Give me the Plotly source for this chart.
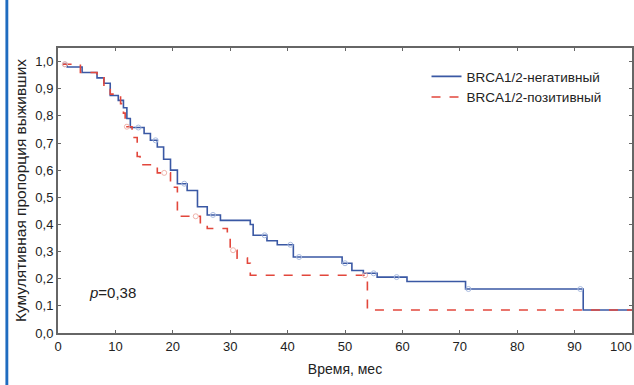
import plotly.graph_objects as go
import numpy as np

# Kaplan-Meier step data
neg_time = [0.8, 1.6, 4.2, 6.8, 8.0, 9.1, 10.5, 11.4, 12.0, 12.6, 15.0, 16.1, 17.3, 18.4, 19.6,
            20.8, 22.5, 24.3, 26.0, 28.3, 33.5, 34.0, 36.4, 38.2, 41.0, 49.5, 51.2, 53.2,
            55.6, 60.8, 71.0, 91.5, 100.0]
neg_surv = [0.99, 0.98, 0.96, 0.94, 0.92, 0.875, 0.857, 0.83, 0.79, 0.757, 0.735, 0.71, 0.685,
            0.64, 0.60, 0.55, 0.525, 0.465, 0.435, 0.415, 0.40, 0.36, 0.34, 0.325, 0.28, 0.257,
            0.23, 0.22, 0.206, 0.19, 0.162, 0.085, 0.085]

pos_time = [0.8, 3.9, 6.8, 8.0, 9.1, 10.9, 11.4, 11.7, 12.9, 13.8, 14.3, 16.6, 17.3, 19.6,
            20.8, 24.8, 26.0, 29.5, 30.0, 31.2, 33.0, 33.5, 53.9, 100.0]
pos_surv = [0.99, 0.96, 0.94, 0.905, 0.88, 0.845, 0.81, 0.76, 0.72, 0.65, 0.62, 0.61, 0.59,
            0.537, 0.43, 0.40, 0.385, 0.36, 0.305, 0.276, 0.257, 0.213, 0.085, 0.085]

# censored observation times
neg_cens = [1.2, 14.0, 17.0, 22.0, 27.0, 36.0, 40.5, 42.0, 50.0, 55.0, 59.0, 71.5, 91.0]
pos_cens = [1.2, 12.0, 18.5, 24.0, 30.5, 53.5]

x_ticks = [0, 10, 20, 30, 40, 50, 60, 70, 80, 90, 100]
y_ticks = [0.0, 0.1, 0.2, 0.3, 0.4, 0.5, 0.6, 0.7, 0.8, 0.9, 1.0]
y_labels = [f"{v:.1f}".replace(".", ",") for v in y_ticks]


def step_at(times, surv, t):
    idx = np.searchsorted(times, t, side="right") - 1
    return surv[max(idx, 0)]


FONT = "Arial, Liberation Sans, sans-serif"
BLUE = "#3a58a4"
RED = "#e2473c"
TXT = "#222"

fig = go.Figure()
fig.add_trace(go.Scatter(x=neg_time, y=neg_surv, mode="lines", line_shape="hv",
                         line=dict(color=BLUE, width=1.6), name="BRCA1/2-негативный"))
fig.add_trace(go.Scatter(x=pos_time, y=pos_surv, mode="lines", line_shape="hv",
                         line=dict(color=RED, width=1.6, dash="dash"), name="BRCA1/2-позитивный"))
fig.add_trace(go.Scatter(x=neg_cens, y=[step_at(neg_time, neg_surv, t) for t in neg_cens],
                         mode="markers", marker=dict(symbol="circle-open", size=5,
                                                     color="#a9bbe0", line=dict(width=1)),
                         showlegend=False, hoverinfo="skip"))
fig.add_trace(go.Scatter(x=pos_cens, y=[step_at(pos_time, pos_surv, t) for t in pos_cens],
                         mode="markers", marker=dict(symbol="circle-open", size=5,
                                                     color="#f0b4ac", line=dict(width=1)),
                         showlegend=False, hoverinfo="skip"))

fig.add_annotation(x=5.1, y=0.15, xref="x", yref="y", xanchor="left", yanchor="middle",
                   text="<i>p</i>=0,38", showarrow=False,
                   font=dict(family=FONT, size=15, color=TXT))

# last x tick label, pulled inside the page as in the original
fig.add_annotation(x=1, y=0, xref="paper", yref="paper", xanchor="right", yanchor="top",
                   xshift=2, yshift=-4, text=str(x_ticks[-1]), showarrow=False,
                   font=dict(family=FONT, size=13, color=TXT))

# blue frame bar on the left edge of the page
fig.add_shape(type="rect", xref="paper", yref="paper", x0=-0.0916, x1=-0.0866,
              y0=-0.2, y1=1.2, fillcolor="#1f6cc0", line=dict(width=0), layer="above")

fig.update_layout(
    width=634, height=385,
    margin=dict(l=58, r=2, t=48, b=52),
    paper_bgcolor="white", plot_bgcolor="white",
    font=dict(family=FONT, size=13, color=TXT),
    showlegend=True,
    legend=dict(x=0.642, y=0.954, xanchor="left", yanchor="top", bgcolor="rgba(0,0,0,0)",
                font=dict(family=FONT, size=13.5, color=TXT), itemwidth=30,
                tracegroupgap=0),
    xaxis=dict(range=[0, 100], tickvals=x_ticks[:-1], ticktext=[str(v) for v in x_ticks[:-1]],
               showgrid=False, zeroline=False, showline=True, linecolor="#666", linewidth=2,
               mirror="ticks", ticks="inside", ticklen=3, tickcolor="#666", automargin=False,
               tickfont=dict(size=13, color=TXT),
               title=dict(text="Время, мес", font=dict(size=14, color=TXT), standoff=12)),
    yaxis=dict(range=[0, 1.05], tickvals=y_ticks, ticktext=y_labels,
               showgrid=False, zeroline=False, showline=True, linecolor="#666", linewidth=2,
               mirror="ticks", ticks="inside", ticklen=3, tickcolor="#666", automargin=False,
               tickfont=dict(size=13, color=TXT),
               title=dict(text="Кумулятивная пропорция выживших",
                          font=dict(size=15.5, color=TXT), standoff=5)),
)

fig.write_html("out.html", config={"displayModeBar": False},
               post_script="document.body.style.margin='0';")
